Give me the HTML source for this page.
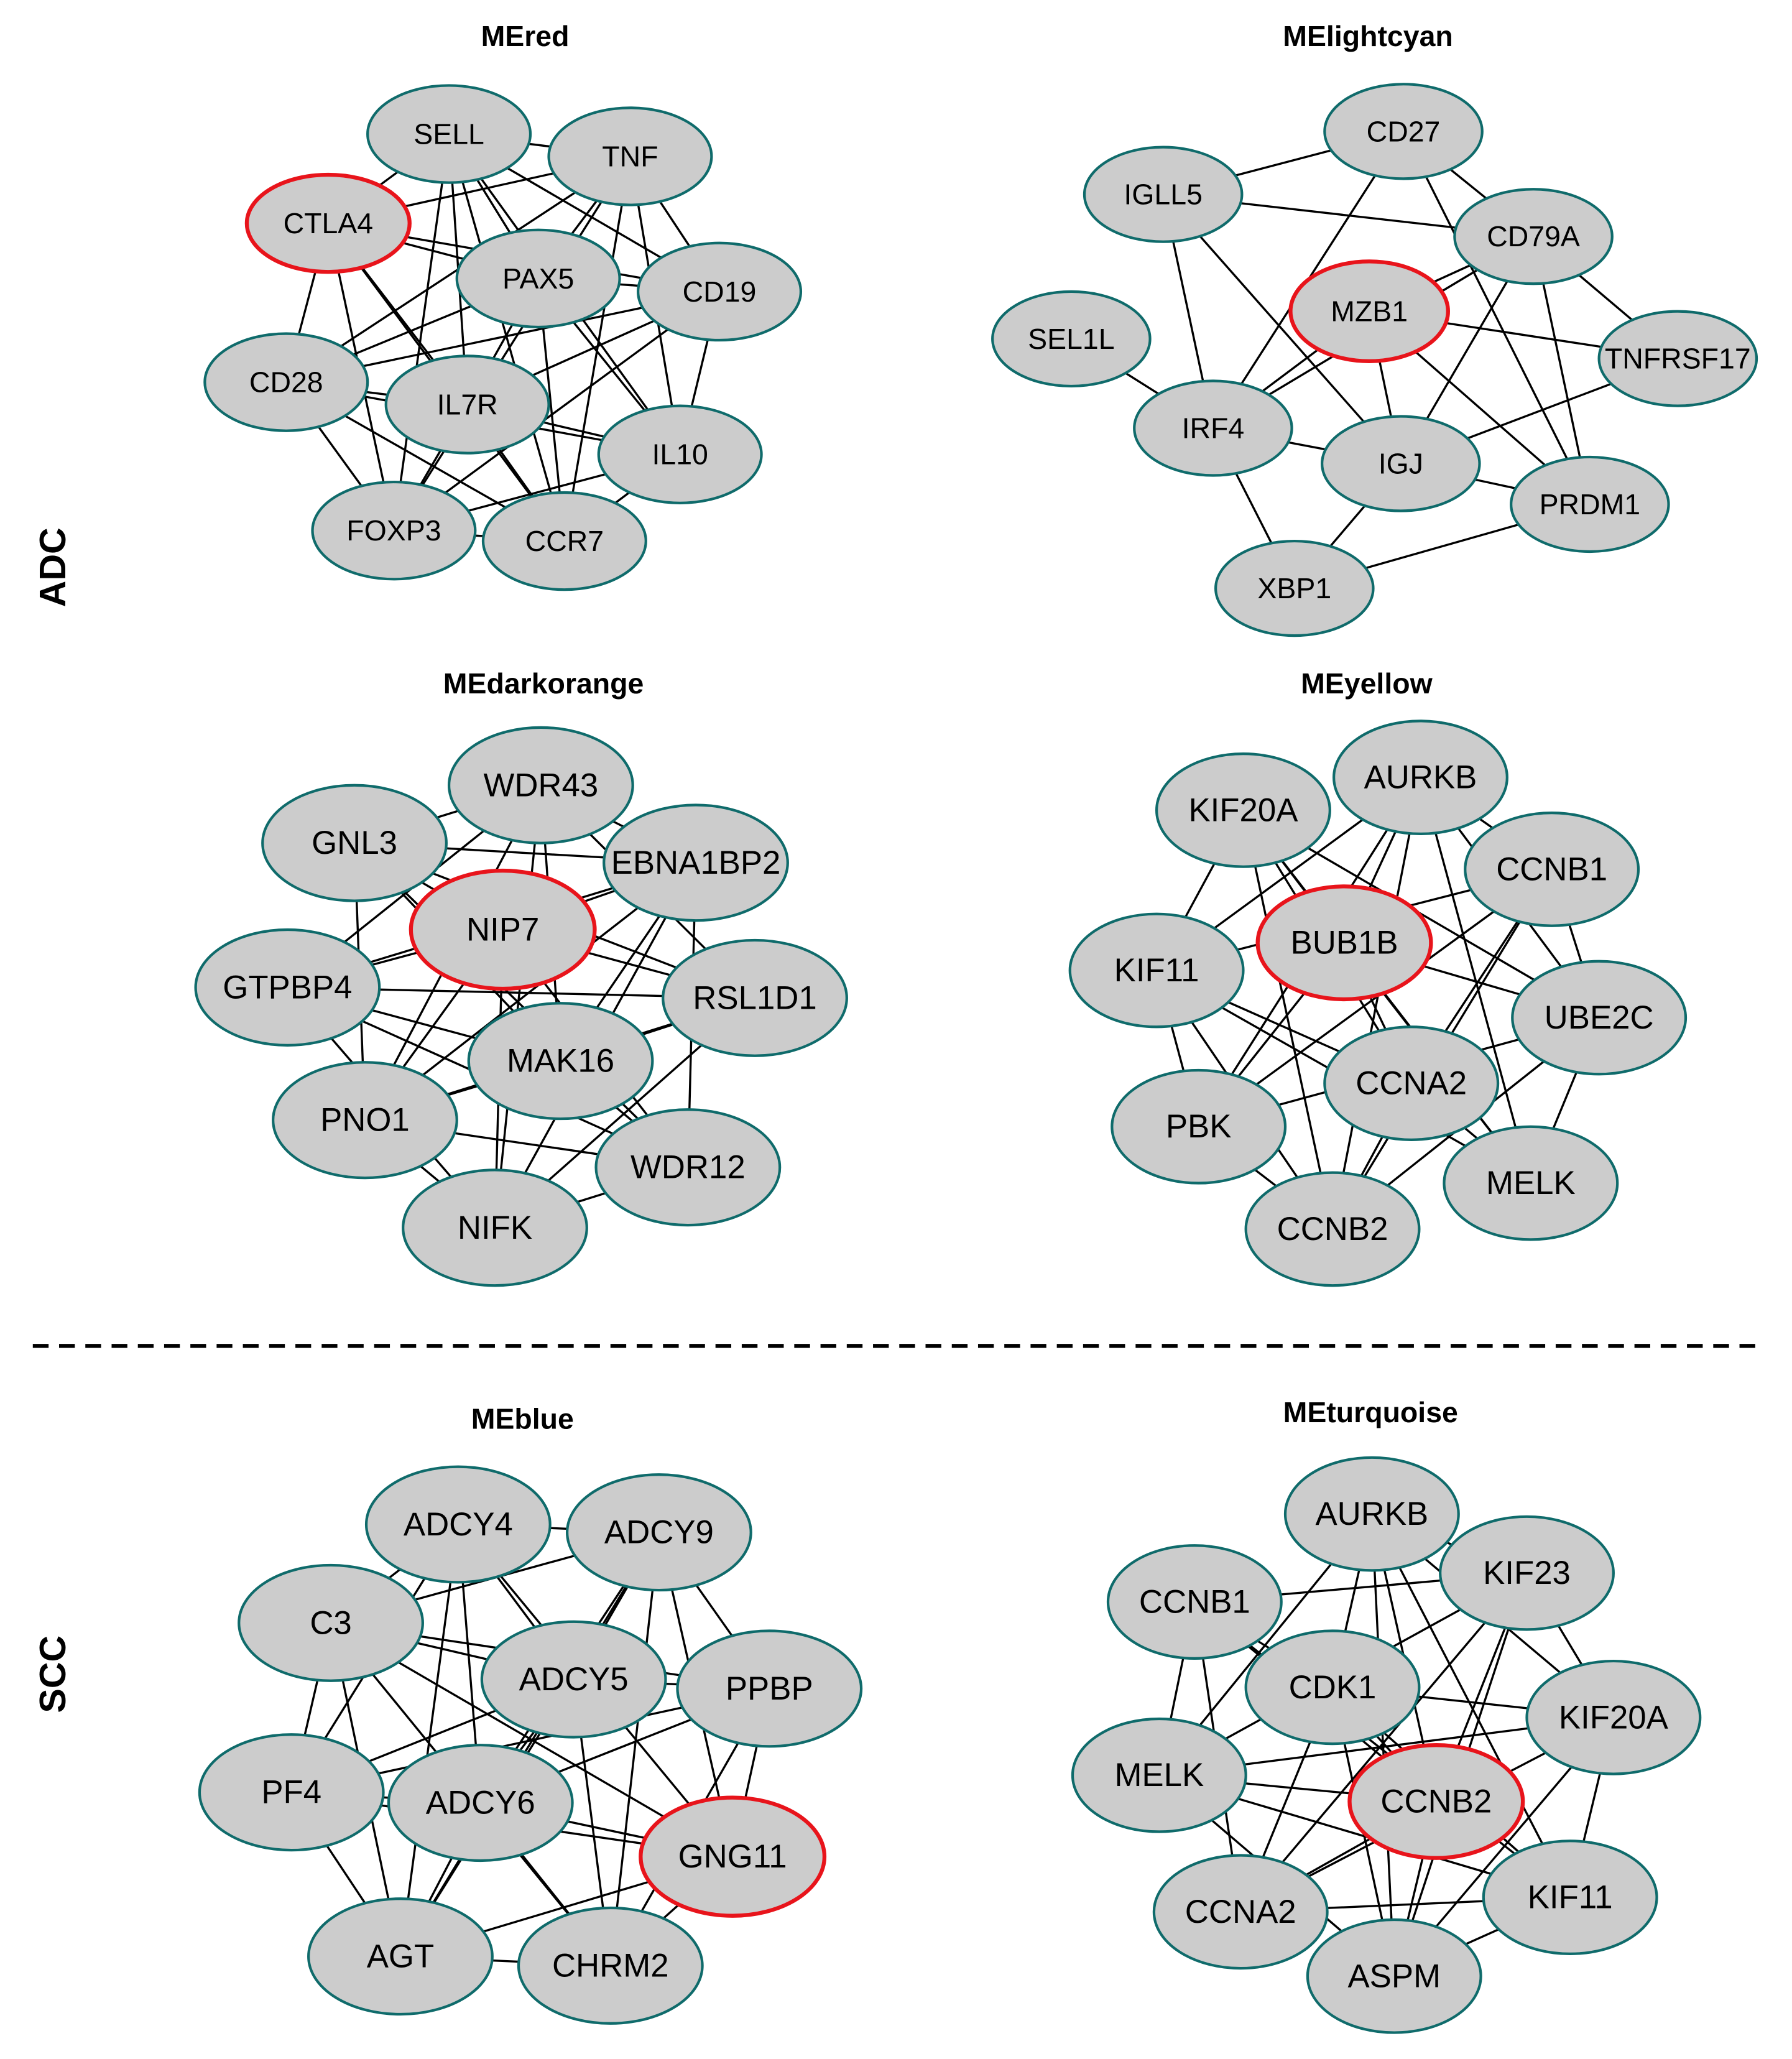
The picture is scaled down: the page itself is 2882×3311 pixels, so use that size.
<!DOCTYPE html>
<html><head><meta charset="utf-8"><style>
html,body{margin:0;padding:0;background:#fff}
svg{display:block}
text{font-family:"Liberation Sans",sans-serif}
.n ellipse{fill:#cccccc;stroke:#0f6b6b;stroke-width:2}
.n ellipse.r{stroke:#e8141b;stroke-width:3}
.n text{font-size:25px;text-anchor:middle;dominant-baseline:central}
.s text{font-size:22px}
.t{font-size:22px;font-weight:bold;text-anchor:middle}
.l line{stroke:#000;stroke-width:1.6}
</style></head><body>
<svg width="2882" height="3311" viewBox="0 0 1365 1568" xmlns="http://www.w3.org/2000/svg">
<g class="l" id="edges"></g>
<text class="t" x="400" y="35">MEred</text>
<text class="t" x="1042" y="35">MElightcyan</text>
<text class="t" x="414" y="528">MEdarkorange</text>
<text class="t" x="1041" y="528">MEyellow</text>
<text class="t" x="398" y="1088">MEblue</text>
<text class="t" x="1044" y="1083">MEturquoise</text>
<text x="40" y="432" transform="rotate(-90 40 432)" style="font-size:28px;font-weight:bold;text-anchor:middle;dominant-baseline:central">ADC</text>
<text x="40" y="1275" transform="rotate(-90 40 1275)" style="font-size:28px;font-weight:bold;text-anchor:middle;dominant-baseline:central">SCC</text>
<line x1="25" y1="1025" x2="1345" y2="1025" stroke="#000" stroke-width="3" stroke-dasharray="12 8"/>

<g class="n s" id="g1">
<ellipse cx="342" cy="102" rx="62" ry="37"/><text x="342" y="102">SELL</text>
<ellipse cx="480" cy="119" rx="62" ry="37"/><text x="480" y="119">TNF</text>
<ellipse class="r" cx="250" cy="170" rx="62" ry="37"/><text x="250" y="170">CTLA4</text>
<ellipse cx="410" cy="212" rx="62" ry="37"/><text x="410" y="212">PAX5</text>
<ellipse cx="548" cy="222" rx="62" ry="37"/><text x="548" y="222">CD19</text>
<ellipse cx="218" cy="291" rx="62" ry="37"/><text x="218" y="291">CD28</text>
<ellipse cx="356" cy="308" rx="62" ry="37"/><text x="356" y="308">IL7R</text>
<ellipse cx="518" cy="346" rx="62" ry="37"/><text x="518" y="346">IL10</text>
<ellipse cx="300" cy="404" rx="62" ry="37"/><text x="300" y="404">FOXP3</text>
<ellipse cx="430" cy="412" rx="62" ry="37"/><text x="430" y="412">CCR7</text>
</g>
<g class="n s" id="g2">
<ellipse cx="1069" cy="100" rx="60" ry="36"/><text x="1069" y="100">CD27</text>
<ellipse cx="886" cy="148" rx="60" ry="36"/><text x="886" y="148">IGLL5</text>
<ellipse cx="1168" cy="180" rx="60" ry="36"/><text x="1168" y="180">CD79A</text>
<ellipse cx="816" cy="258" rx="60" ry="36"/><text x="816" y="258">SEL1L</text>
<ellipse class="r" cx="1043" cy="237" rx="60" ry="38"/><text x="1043" y="237">MZB1</text>
<ellipse cx="1278" cy="273" rx="60" ry="36"/><text x="1278" y="273">TNFRSF17</text>
<ellipse cx="924" cy="326" rx="60" ry="36"/><text x="924" y="326">IRF4</text>
<ellipse cx="1067" cy="353" rx="60" ry="36"/><text x="1067" y="353">IGJ</text>
<ellipse cx="1211" cy="384" rx="60" ry="36"/><text x="1211" y="384">PRDM1</text>
<ellipse cx="986" cy="448" rx="60" ry="36"/><text x="986" y="448">XBP1</text>
</g>
<g class="n" id="g3">
<ellipse cx="412" cy="598" rx="70" ry="44"/><text x="412" y="598">WDR43</text>
<ellipse cx="270" cy="642" rx="70" ry="44"/><text x="270" y="642">GNL3</text>
<ellipse cx="530" cy="657" rx="70" ry="44"/><text x="530" y="657">EBNA1BP2</text>
<ellipse class="r" cx="383" cy="708" rx="70" ry="45"/><text x="383" y="708">NIP7</text>
<ellipse cx="219" cy="752" rx="70" ry="44"/><text x="219" y="752">GTPBP4</text>
<ellipse cx="575" cy="760" rx="70" ry="44"/><text x="575" y="760">RSL1D1</text>
<ellipse cx="427" cy="808" rx="70" ry="44"/><text x="427" y="808">MAK16</text>
<ellipse cx="278" cy="853" rx="70" ry="44"/><text x="278" y="853">PNO1</text>
<ellipse cx="524" cy="889" rx="70" ry="44"/><text x="524" y="889">WDR12</text>
<ellipse cx="377" cy="935" rx="70" ry="44"/><text x="377" y="935">NIFK</text>
</g>
<g class="n" id="g4">
<ellipse cx="1082" cy="592" rx="66" ry="43"/><text x="1082" y="592">AURKB</text>
<ellipse cx="947" cy="617" rx="66" ry="43"/><text x="947" y="617">KIF20A</text>
<ellipse cx="1182" cy="662" rx="66" ry="43"/><text x="1182" y="662">CCNB1</text>
<ellipse class="r" cx="1024" cy="718" rx="66" ry="43"/><text x="1024" y="718">BUB1B</text>
<ellipse cx="881" cy="739" rx="66" ry="43"/><text x="881" y="739">KIF11</text>
<ellipse cx="1218" cy="775" rx="66" ry="43"/><text x="1218" y="775">UBE2C</text>
<ellipse cx="1075" cy="825" rx="66" ry="43"/><text x="1075" y="825">CCNA2</text>
<ellipse cx="913" cy="858" rx="66" ry="43"/><text x="913" y="858">PBK</text>
<ellipse cx="1166" cy="901" rx="66" ry="43"/><text x="1166" y="901">MELK</text>
<ellipse cx="1015" cy="936" rx="66" ry="43"/><text x="1015" y="936">CCNB2</text>
</g>
<g class="n" id="g5">
<ellipse cx="349" cy="1161" rx="70" ry="44"/><text x="349" y="1161">ADCY4</text>
<ellipse cx="502" cy="1167" rx="70" ry="44"/><text x="502" y="1167">ADCY9</text>
<ellipse cx="252" cy="1236" rx="70" ry="44"/><text x="252" y="1236">C3</text>
<ellipse cx="437" cy="1279" rx="70" ry="44"/><text x="437" y="1279">ADCY5</text>
<ellipse cx="586" cy="1286" rx="70" ry="44"/><text x="586" y="1286">PPBP</text>
<ellipse cx="222" cy="1365" rx="70" ry="44"/><text x="222" y="1365">PF4</text>
<ellipse cx="366" cy="1373" rx="70" ry="44"/><text x="366" y="1373">ADCY6</text>
<ellipse class="r" cx="558" cy="1414" rx="70" ry="45"/><text x="558" y="1414">GNG11</text>
<ellipse cx="305" cy="1490" rx="70" ry="44"/><text x="305" y="1490">AGT</text>
<ellipse cx="465" cy="1497" rx="70" ry="44"/><text x="465" y="1497">CHRM2</text>
</g>
<g class="n" id="g6">
<ellipse cx="1045" cy="1153" rx="66" ry="43"/><text x="1045" y="1153">AURKB</text>
<ellipse cx="1163" cy="1198" rx="66" ry="43"/><text x="1163" y="1198">KIF23</text>
<ellipse cx="910" cy="1220" rx="66" ry="43"/><text x="910" y="1220">CCNB1</text>
<ellipse cx="1015" cy="1285" rx="66" ry="43"/><text x="1015" y="1285">CDK1</text>
<ellipse cx="1229" cy="1308" rx="66" ry="43"/><text x="1229" y="1308">KIF20A</text>
<ellipse cx="883" cy="1352" rx="66" ry="43"/><text x="883" y="1352">MELK</text>
<ellipse class="r" cx="1094" cy="1372" rx="66" ry="43"/><text x="1094" y="1372">CCNB2</text>
<ellipse cx="945" cy="1456" rx="66" ry="43"/><text x="945" y="1456">CCNA2</text>
<ellipse cx="1196" cy="1445" rx="66" ry="43"/><text x="1196" y="1445">KIF11</text>
<ellipse cx="1062" cy="1505" rx="66" ry="43"/><text x="1062" y="1505">ASPM</text>
</g>
</svg>
<script>
(function(){
var E=document.getElementById('edges'),NS='http://www.w3.org/2000/svg';
function pts(id){return Array.prototype.map.call(document.querySelectorAll('#'+id+' ellipse'),function(e){return [+e.getAttribute('cx'),+e.getAttribute('cy')];});}
function ln(a,b){var l=document.createElementNS(NS,'line');l.setAttribute('x1',a[0]);l.setAttribute('y1',a[1]);l.setAttribute('x2',b[0]);l.setAttribute('y2',b[1]);E.appendChild(l);}
['g1','g3','g4','g5','g6'].forEach(function(g,k){var p=pts(g);for(var i=0;i<p.length;i++)for(var j=i+1;j<p.length;j++){if((i*7+j*3+k)%5==0)continue;ln(p[i],p[j]);}});
var p=pts('g2');
[[1,0],[1,2],[1,6],[1,7],[0,2],[0,6],[0,8],[2,5],[2,4],[2,6],[2,7],[2,8],[4,5],[4,6],[4,7],[4,8],[3,6],[6,7],[6,9],[7,8],[7,9],[7,5],[9,8]].forEach(function(e){ln(p[e[0]],p[e[1]]);});
})();
</script>
</body></html>
